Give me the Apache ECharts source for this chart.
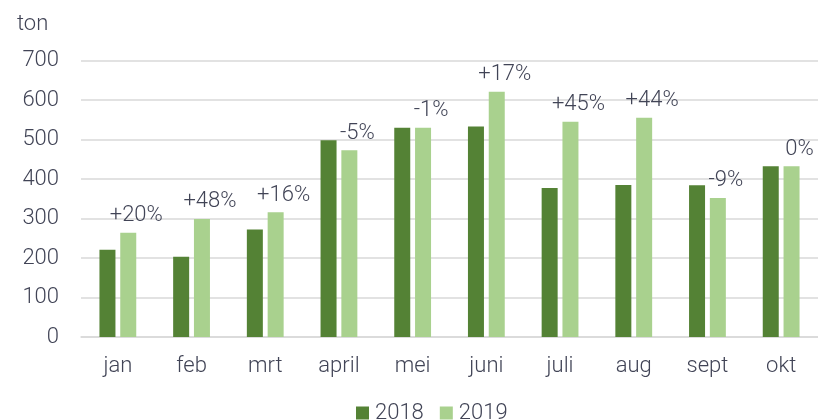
<!DOCTYPE html>
<html>
<head>
<meta charset="utf-8">
<script src="https://cdn.jsdelivr.net/npm/echarts@6/dist/echarts.min.js"></script>
<style>
  html, body { margin: 0; padding: 0; background: #fff; }
  #chart { width: 818px; height: 420px; }
</style>
</head>
<body>
<div id="chart"></div>
<script>
const months = ['jan', 'feb', 'mrt', 'april', 'mei', 'juni', 'juli', 'aug', 'sept', 'okt'];
const tons2018 = [221, 203, 272, 498, 530, 533, 377, 385, 384, 432];
const tons2019 = [264, 299, 316, 473, 530, 621, 545, 555, 352, 432];
const changeLabels = ['+20%', '+48%', '+16%', '-5%', '-1%', '+17%', '+45%', '+44%', '-9%', '0%'];
const yTicks = [0, 100, 200, 300, 400, 500, 600, 700];

const textColor = '#414456';
const font = 'Roboto';

const chart = echarts.init(document.getElementById('chart'));

const option = {
  animation: false,
  textStyle: { fontFamily: font },
  title: {
    text: 'ton',
    left: 12,
    top: 8,
    textStyle: { fontFamily: font, fontSize: 22, fontWeight: 300, color: textColor }
  },
  legend: {
    left: 351,
    top: 397,
    itemWidth: 13,
    itemHeight: 13,
    itemGap: 16,
    icon: 'rect',
    textStyle: { fontFamily: font, fontSize: 22, fontWeight: 300, color: textColor, padding: [0, 0, 0, 1] },
    data: ['2018', '2019']
  },
  grid: { left: 81, right: 0, top: 60.5, bottom: 83 },
  xAxis: {
    type: 'category',
    data: months,
    axisTick: { show: false },
    axisLine: { lineStyle: { color: '#d9d9d9', width: 1.5 } },
    axisLabel: { fontFamily: font, fontSize: 22, fontWeight: 300, color: textColor, margin: 18 }
  },
  yAxis: {
    type: 'value',
    min: yTicks[0],
    max: yTicks[yTicks.length - 1],
    interval: 100,
    axisLine: { show: false },
    axisTick: { show: false },
    splitLine: { lineStyle: { color: '#d9d9d9', width: 1.5 } },
    axisLabel: { fontFamily: font, fontSize: 22, fontWeight: 300, color: textColor, margin: 22 }
  },
  series: [
    {
      name: '2018',
      type: 'bar',
      data: tons2018,
      barWidth: 16,
      barGap: '30%',
      itemStyle: { color: '#548235' }
    },
    {
      name: '2019',
      type: 'bar',
      data: tons2019,
      barWidth: 16,
      itemStyle: { color: '#a9d18e' },
      label: {
        show: true,
        position: 'top',
        distance: 6,
        offset: [8, 0],
        fontFamily: font,
        fontSize: 22,
        fontWeight: 300,
        color: textColor,
        formatter: p => changeLabels[p.dataIndex]
      }
    }
  ]
};

chart.setOption(option);
</script>
</body>
</html>
